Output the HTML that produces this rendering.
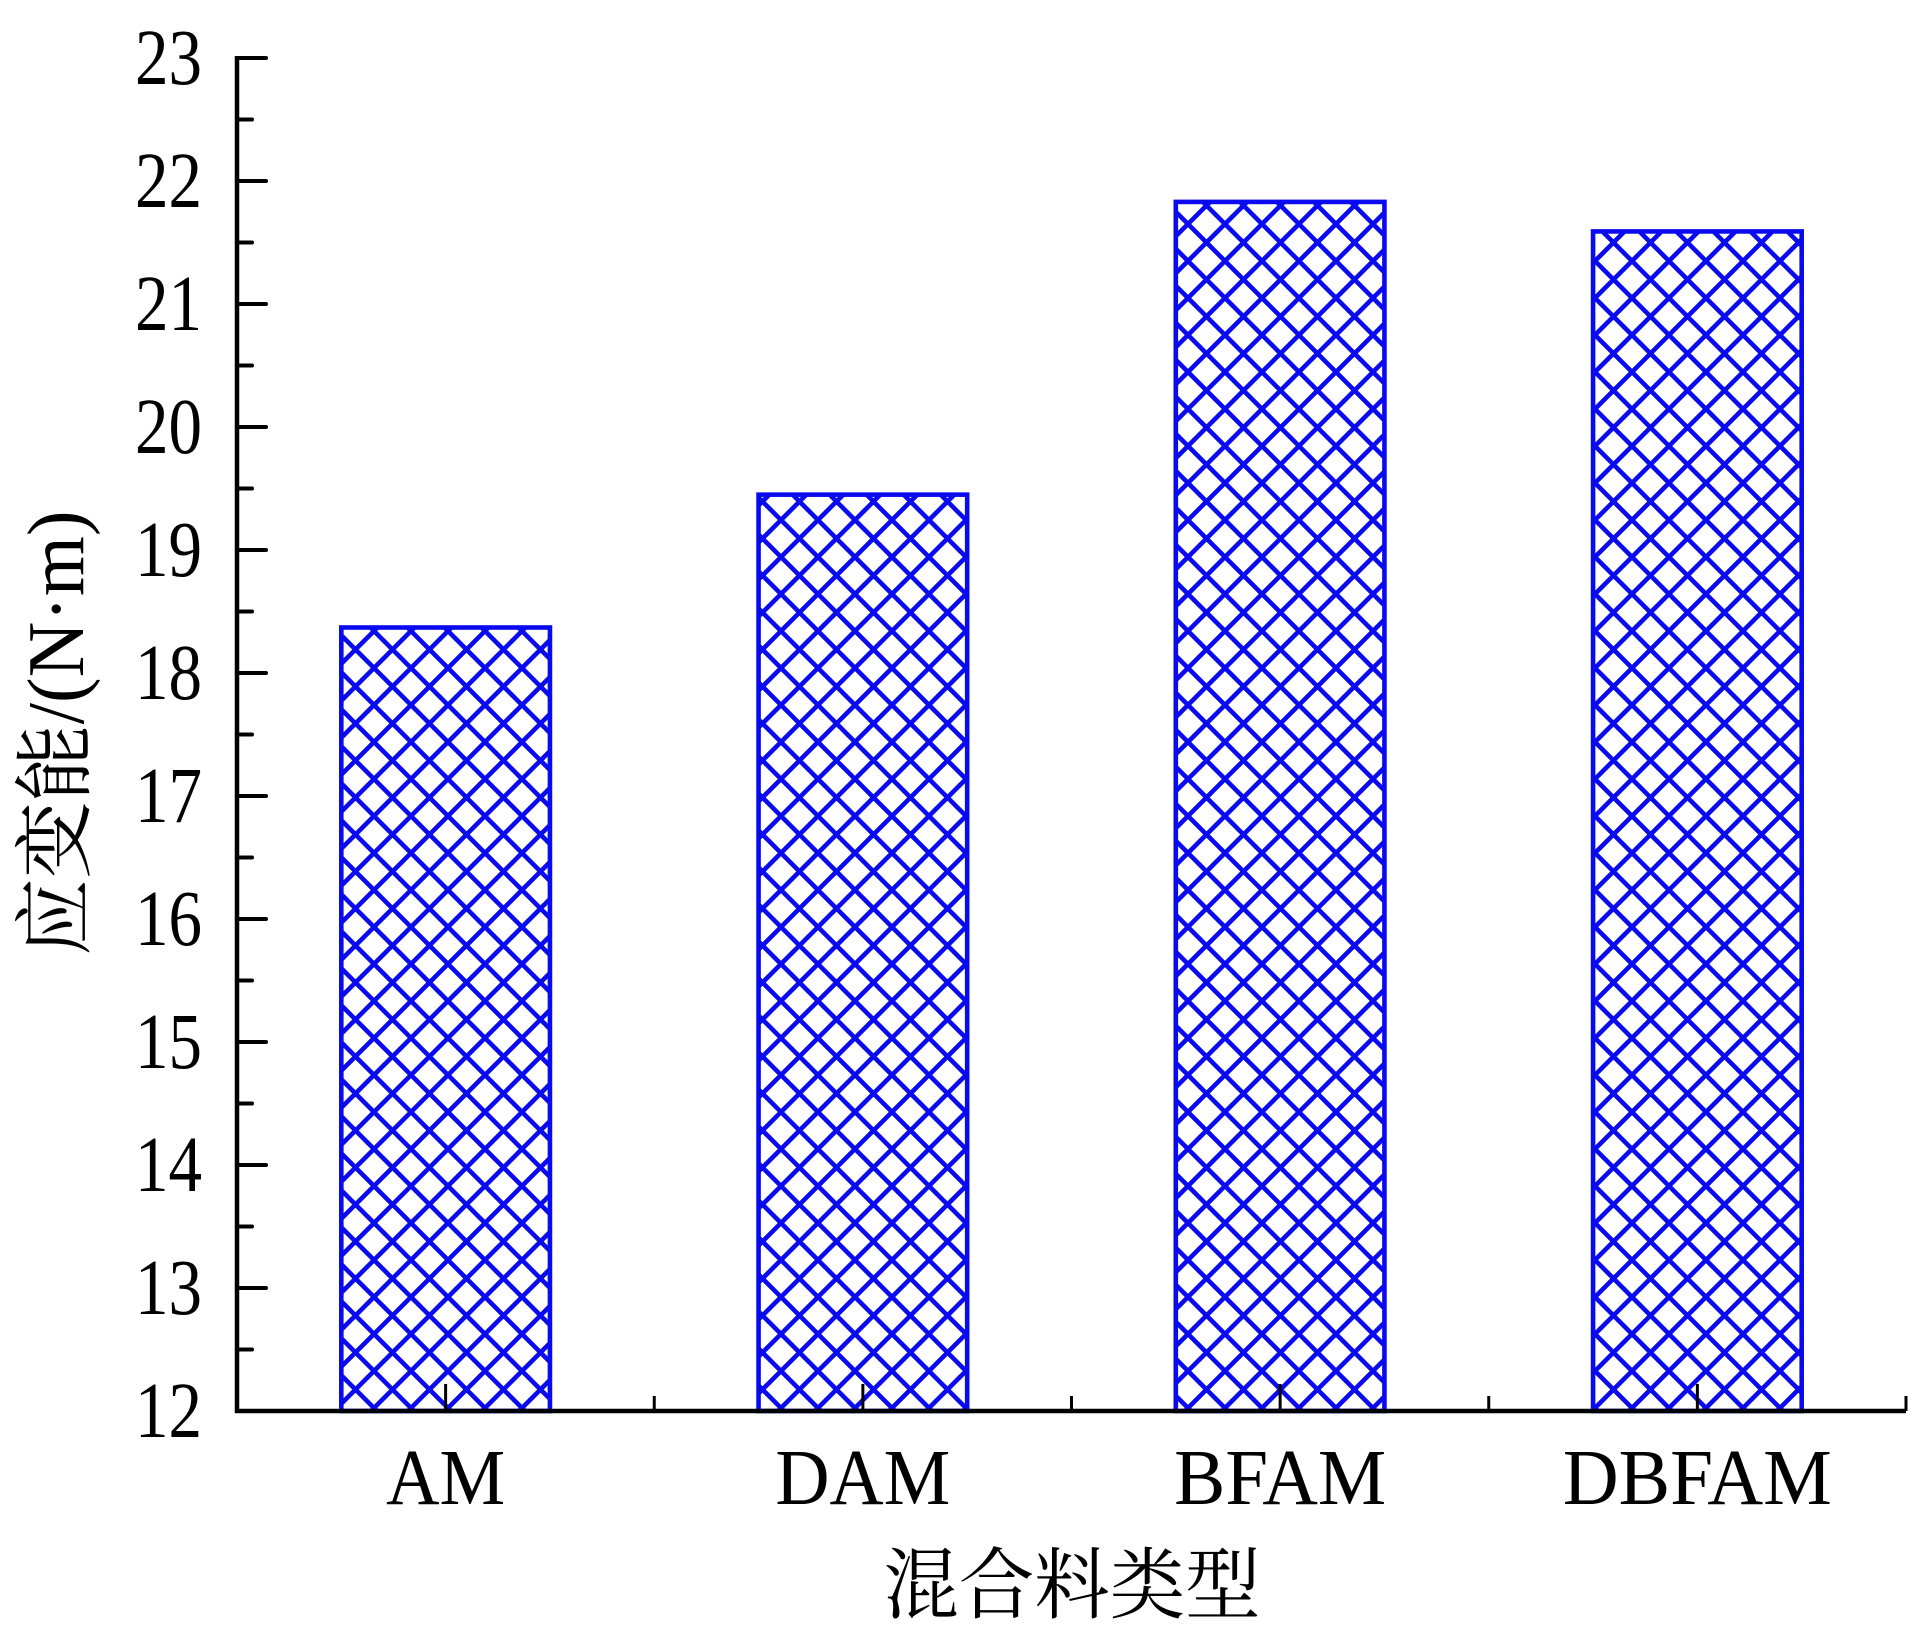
<!DOCTYPE html>
<html><head><meta charset="utf-8"><style>
html,body{margin:0;padding:0;background:#fff;}
svg{display:block;}
text{font-family:"Liberation Serif","Noto Serif CJK SC",serif;fill:#000;}
</style></head><body>
<svg id="chart" width="1910" height="1632" viewBox="0 0 1910 1632" xmlns="http://www.w3.org/2000/svg">
<defs>
<pattern id="hatch" patternUnits="userSpaceOnUse" width="37" height="37" x="4" y="2">
<path d="M0,0 L37,37 M37,0 L0,37 M-5,32 L5,42 M32,-5 L42,5 M-5,5 L5,-5 M32,42 L42,32" stroke="#0a0af0" stroke-width="4.6" fill="none"/>
</pattern>
</defs>
<g id="bars"></g>
<g id="axes"></g>
<text transform="translate(57,733) rotate(-90)" text-anchor="middle" dominant-baseline="central" font-size="80" textLength="445" lengthAdjust="spacingAndGlyphs">应变能/(N·m)</text>
<text x="1072" y="1612" text-anchor="middle" font-size="78" textLength="377" lengthAdjust="spacingAndGlyphs">混合料类型</text>
</svg>
<script>
const categories = ["AM","DAM","BFAM","DBFAM"];
const values = [18.37, 19.45, 21.83, 21.59];
const yTicks = [12,13,14,15,16,17,18,19,20,21,22,23];
const labelWidths = [119,175,212,269];

const NS="http://www.w3.org/2000/svg";
const X0=237, X1=1906, Y0=1411, Y1=58, YMIN=12, YMAX=23;
const band=(X1-X0)/categories.length;
function y(v){return Y0-(v-YMIN)/(YMAX-YMIN)*(Y0-Y1);}
function xc(i){return X0+band*(i+0.5);}
function mk(tag,attrs,parent){const e=document.createElementNS(NS,tag);for(const k in attrs)e.setAttribute(k,attrs[k]);parent.appendChild(e);return e;}
const bars=document.getElementById('bars'), axes=document.getElementById('axes');
const bw=band*0.5;
values.forEach((v,i)=>{
  const r=mk('rect',{x:xc(i)-bw/2,y:y(v),width:bw,height:Y0-y(v),fill:'url(#hatch)',stroke:'#0a0af0','stroke-width':4.6},bars);
  
  
});
const ya=mk('line',{x1:X0,y1:Y1-2,x2:X0,y2:Y0+2,stroke:'#000','stroke-width':4.5},axes);


const xa=mk('line',{x1:X0-2,y1:Y0,x2:X1,y2:Y0,stroke:'#000','stroke-width':4.5},axes);


for(let v=YMIN; v<=YMAX; v+=0.5){
  const major=Number.isInteger(v);
  mk('line',{x1:X0,y1:y(v),x2:X0+(major?29:15),y2:y(v),stroke:'#000','stroke-width':4,'stroke-linecap':'round'},axes);
}
yTicks.forEach(t=>{
  const tx=mk('text',{x:202,y:y(t)+26,'text-anchor':'end','font-size':79,textLength:67,lengthAdjust:'spacingAndGlyphs'},axes);
  tx.textContent=t;
  
  
});
categories.forEach((c,i)=>{
  mk('line',{x1:xc(i),y1:Y0,x2:xc(i),y2:Y0-27,stroke:'#000','stroke-width':3},axes);
  mk('line',{x1:X0+band*(i+1),y1:Y0,x2:X0+band*(i+1),y2:Y0-15,stroke:'#000','stroke-width':3},axes);
  const tx=mk('text',{x:xc(i),y:1504,'text-anchor':'middle','font-size':79,textLength:labelWidths[i],lengthAdjust:'spacingAndGlyphs'},axes);
  tx.textContent=c;
  
  
});
</script>
</body></html>
